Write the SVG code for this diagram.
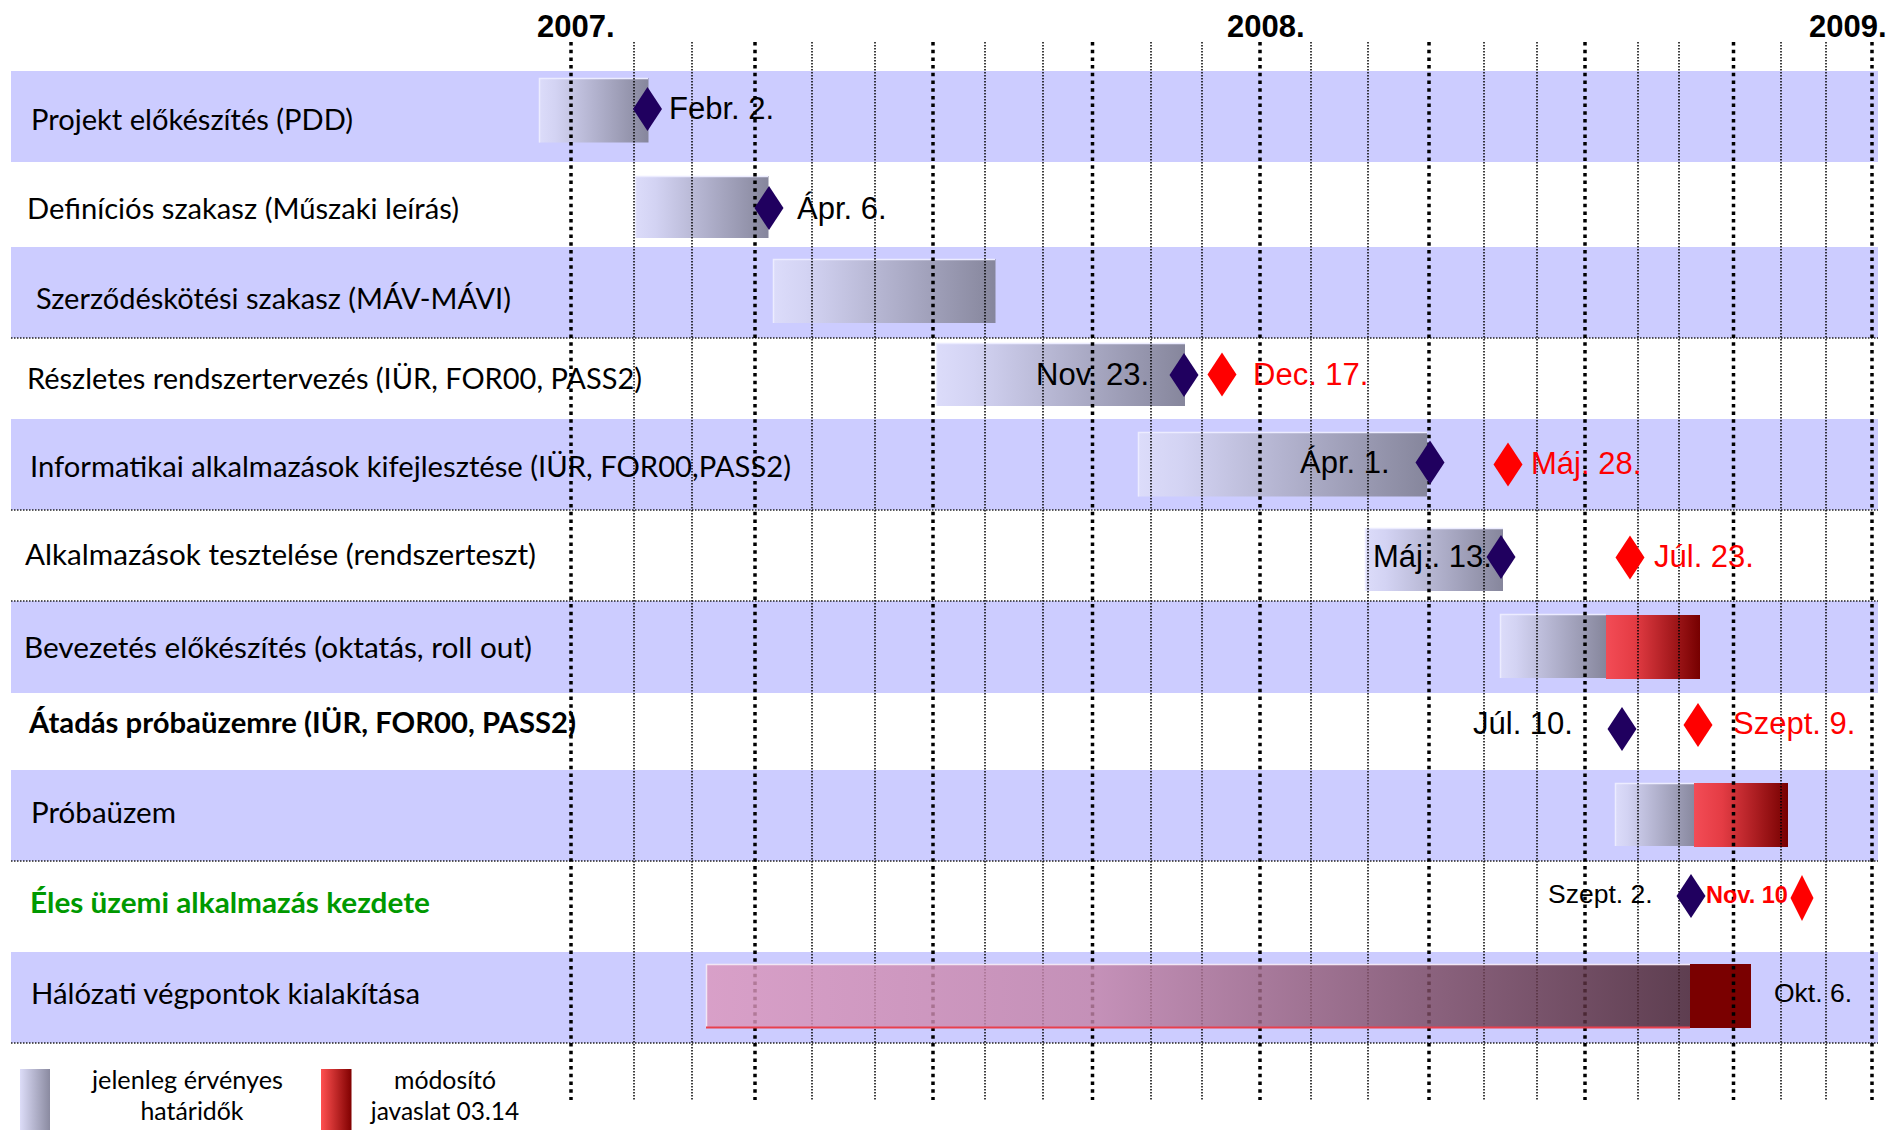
<svg xmlns="http://www.w3.org/2000/svg" xmlns:xlink="http://www.w3.org/1999/xlink" width="1901" height="1130" viewBox="0 0 1901 1130">
<style>
.band{fill:#CCCCFF}
.hl{stroke:#222;stroke-width:1.5;stroke-dasharray:1.5 1.5;fill:none}
.vthick{stroke:#000;stroke-width:3.5;stroke-dasharray:3.5 4.2;fill:none}
.vthin{stroke:#000;stroke-width:1.5;stroke-dasharray:1.5 1.5;fill:none}
.gbar{fill:url(#gGray)}
.rbar{fill:url(#gRed)}
.edge{stroke:#ECECFF;stroke-width:1.5;fill:none}
.lbl{font-family:Lato,"Liberation Sans",sans-serif;font-size:29px;fill:#000}
.lblb{font-family:Lato,"Liberation Sans",sans-serif;font-size:29px;font-weight:bold}
.year{font-family:"Liberation Sans",Arial,sans-serif;font-size:31px;font-weight:bold;fill:#000}
.date{font-family:"Liberation Sans",Arial,sans-serif;font-size:31px;fill:#000}
.dater{font-family:"Liberation Sans",Arial,sans-serif;font-size:31px;fill:#FF0000}
.leg{font-family:Lato,"Liberation Sans",sans-serif;font-size:25px;fill:#000}
.nav{fill:#20005F}
.red{fill:#FF0000}
</style>
<defs>
<linearGradient id="gGray" x1="0" y1="0" x2="1" y2="0">
<stop offset="0" stop-color="#DCDCFA"/>
<stop offset="0.15" stop-color="#D3D3F3"/>
<stop offset="1" stop-color="#86869C"/>
</linearGradient>
<linearGradient id="gRed" x1="0" y1="0" x2="1" y2="0">
<stop offset="0" stop-color="#F34C56"/>
<stop offset="0.3" stop-color="#E43C44"/>
<stop offset="1" stop-color="#760000"/>
</linearGradient>
<linearGradient id="gPink" x1="0" y1="0" x2="1" y2="0">
<stop offset="0" stop-color="#DB96BC"/>
<stop offset="0.4" stop-color="#C283A8"/>
<stop offset="1" stop-color="#461F2A"/>
</linearGradient>
<linearGradient id="gLegGray" x1="0" y1="0" x2="1" y2="0">
<stop offset="0" stop-color="#DCDCF8"/>
<stop offset="1" stop-color="#8A8AA0"/>
</linearGradient>
<linearGradient id="gLegRed" x1="0" y1="0" x2="1" y2="0">
<stop offset="0" stop-color="#FF5050"/>
<stop offset="1" stop-color="#800000"/>
</linearGradient>
<path id="dia" d="M0,-22 L14.5,0 L0,22 L-14.5,0 Z"/>
<path id="diaS" d="M0,-23 L11.5,0 L0,23 L-11.5,0 Z"/>
</defs>

<rect width="1901" height="1130" fill="#FFFFFF"/>

<!-- row bands -->
<g id="bands">
<rect class="band" x="11" y="71" width="1867" height="91"/>
<rect class="band" x="11" y="247" width="1867" height="91"/>
<rect class="band" x="11" y="419" width="1867" height="91"/>
<rect class="band" x="11" y="601" width="1867" height="92"/>
<rect class="band" x="11" y="770" width="1867" height="91"/>
<rect class="band" x="11" y="952" width="1867" height="91"/>
</g>

<!-- bars under grid -->
<g id="bars">
<rect class="gbar" x="539" y="78" width="109.5" height="64.5"/>
<path class="edge" d="M539.5,142.5 V78.5 H648"/>
<rect class="gbar" x="635" y="176" width="133.5" height="62"/>
<path class="edge" d="M635.5,238 V176.5 H768"/>
<rect class="gbar" x="773" y="259" width="222.5" height="64"/>
<path class="edge" d="M773.5,323 V259.5 H995"/>
<rect class="gbar" x="936" y="343" width="249" height="63"/>
<path class="edge" d="M936.5,406 V343.5 H1185"/>
<rect class="gbar" x="1138" y="432" width="289" height="64.5"/>
<path class="edge" d="M1138.5,496.5 V432.5 H1427"/>
<rect class="gbar" x="1365" y="528" width="138" height="63"/>
<path class="edge" d="M1365.5,591 V528.5 H1503"/>
<rect class="gbar" x="1500" y="614" width="106" height="64"/>
<path class="edge" d="M1500.5,678 V614.5 H1606"/>
<rect class="rbar" x="1606" y="615" width="94" height="64"/>
<rect class="gbar" x="1615" y="783" width="82" height="63"/>
<path class="edge" d="M1615.5,846 V783.5 H1697"/>
<rect class="rbar" x="1694" y="783" width="94" height="64"/>
<rect x="1690" y="964" width="61" height="64" fill="#7A0000"/>
</g>

<!-- grid lines -->
<g id="connectors">
<line class="hl" x1="11" y1="338" x2="1878" y2="338"/>
<line class="hl" x1="11" y1="510" x2="1878" y2="510"/>
<line class="hl" x1="11" y1="601" x2="1878" y2="601"/>
<line class="hl" x1="11" y1="861" x2="1878" y2="861"/>
<line class="hl" x1="11" y1="1043" x2="1878" y2="1043"/>
<line class="vthick" x1="571" y1="42" x2="571" y2="1100"/>
<line class="vthick" x1="755" y1="42" x2="755" y2="1100"/>
<line class="vthick" x1="933" y1="42" x2="933" y2="1100"/>
<line class="vthick" x1="1092.5" y1="42" x2="1092.5" y2="1100"/>
<line class="vthick" x1="1260" y1="42" x2="1260" y2="1100"/>
<line class="vthick" x1="1429" y1="42" x2="1429" y2="1100"/>
<line class="vthick" x1="1585" y1="42" x2="1585" y2="1100"/>
<line class="vthick" x1="1733.5" y1="42" x2="1733.5" y2="1100"/>
<line class="vthick" x1="1872" y1="42" x2="1872" y2="1100"/>
<line class="vthin" x1="634" y1="42" x2="634" y2="1100"/>
<line class="vthin" x1="692" y1="42" x2="692" y2="1100"/>
<line class="vthin" x1="812" y1="42" x2="812" y2="1100"/>
<line class="vthin" x1="875" y1="42" x2="875" y2="1100"/>
<line class="vthin" x1="985" y1="42" x2="985" y2="1100"/>
<line class="vthin" x1="1043" y1="42" x2="1043" y2="1100"/>
<line class="vthin" x1="1151" y1="42" x2="1151" y2="1100"/>
<line class="vthin" x1="1202" y1="42" x2="1202" y2="1100"/>
<line class="vthin" x1="1311" y1="42" x2="1311" y2="1100"/>
<line class="vthin" x1="1368" y1="42" x2="1368" y2="1100"/>
<line class="vthin" x1="1484" y1="42" x2="1484" y2="1100"/>
<line class="vthin" x1="1537" y1="42" x2="1537" y2="1100"/>
<line class="vthin" x1="1638" y1="42" x2="1638" y2="1100"/>
<line class="vthin" x1="1679" y1="42" x2="1679" y2="1100"/>
<line class="vthin" x1="1781" y1="42" x2="1781" y2="1100"/>
<line class="vthin" x1="1826" y1="42" x2="1826" y2="1100"/>
</g>

<!-- years -->
<g id="years">
<text class="year" x="537" y="37">2007.</text>
<text class="year" x="1227" y="37">2008.</text>
<text class="year" x="1809" y="37">2009.</text>
</g>

<g id="row1">
<text class="lbl" x="31" y="130" textLength="322" lengthAdjust="spacingAndGlyphs">Projekt előkészítés (PDD)</text>
<use xlink:href="#dia" class="nav" x="647.5" y="109"/>
<text class="date" x="669" y="119">Febr. 2.</text>
</g>

<g id="row2">
<text class="lbl" x="27" y="219" textLength="432" lengthAdjust="spacingAndGlyphs">Definíciós szakasz (Műszaki leírás)</text>
<use xlink:href="#dia" class="nav" x="769" y="208"/>
<text class="date" x="797" y="219">Ápr. 6.</text>
</g>

<g id="row3">
<text class="lbl" x="36" y="309" textLength="475" lengthAdjust="spacingAndGlyphs">Szerződéskötési szakasz (MÁV-MÁVI)</text>
</g>

<g id="row4">
<text class="lbl" x="27" y="389" textLength="615" lengthAdjust="spacingAndGlyphs">Részletes rendszertervezés (IÜR, FOR00, PASS2)</text>
<text class="date" x="1036" y="385">Nov. 23.</text>
<use xlink:href="#dia" class="nav" x="1184" y="375"/>
<use xlink:href="#dia" class="red" x="1222" y="374.5"/>
<text class="dater" x="1253" y="385">Dec. 17.</text>
</g>

<g id="row5">
<text class="lbl" x="30" y="477" textLength="761" lengthAdjust="spacingAndGlyphs">Informatikai alkalmazások kifejlesztése (IÜR, FOR00,PASS2)</text>
<text class="date" x="1300" y="473">Ápr. 1.</text>
<use xlink:href="#dia" class="nav" x="1430" y="462.5"/>
<use xlink:href="#dia" class="red" x="1508" y="464.5"/>
<text class="dater" x="1531" y="474">Máj. 28.</text>
</g>

<g id="row6">
<text class="lbl" x="25" y="565" textLength="511" lengthAdjust="spacingAndGlyphs">Alkalmazások tesztelése (rendszerteszt)</text>
<text class="date" x="1373" y="567">Máj.. 13.</text>
<use xlink:href="#dia" class="nav" x="1501" y="557"/>
<use xlink:href="#dia" class="red" x="1630" y="557.5"/>
<text class="dater" x="1654" y="567">Júl. 23.</text>
</g>

<g id="row7">
<text class="lbl" x="24" y="658" textLength="508" lengthAdjust="spacingAndGlyphs">Bevezetés előkészítés (oktatás, roll out)</text>
</g>

<g id="row8">
<text class="lblb" x="29" y="733" fill="#000" textLength="547" lengthAdjust="spacingAndGlyphs">Átadás próbaüzemre (IÜR, FOR00, PASS2)</text>
<text class="date" x="1473" y="734">Júl. 10.</text>
<use xlink:href="#dia" class="nav" x="1622" y="729"/>
<use xlink:href="#dia" class="red" x="1698" y="725"/>
<text class="dater" x="1733" y="734">Szept. 9.</text>
</g>

<g id="row9">
<text class="lbl" x="31" y="823" textLength="145" lengthAdjust="spacingAndGlyphs">Próbaüzem</text>
</g>

<g id="row10">
<text class="lblb" x="30" y="913" fill="#009900" textLength="400" lengthAdjust="spacingAndGlyphs">Éles üzemi alkalmazás kezdete</text>
<text x="1548" y="903" font-family="Liberation Sans, Arial, sans-serif" font-size="26.5" fill="#000">Szept. 2.</text>
<use xlink:href="#dia" class="nav" x="1691" y="896"/>
<text x="1706" y="903" font-family="Liberation Sans, Arial, sans-serif" font-size="23.5" font-weight="bold" fill="#FF0000">Nov. 10</text>
<use xlink:href="#diaS" class="red" x="1802" y="898"/>
</g>

<g id="row11">
<text class="lbl" x="31" y="1004" textLength="389" lengthAdjust="spacingAndGlyphs">Hálózati végpontok kialakítása</text>
<rect x="706" y="964" width="984" height="64" fill="url(#gPink)" opacity="0.82"/>
<line x1="706" y1="964.5" x2="1690" y2="964.5" stroke="#F2E6F4" stroke-width="1.5"/>
<line x1="706.5" y1="964" x2="706.5" y2="1028" stroke="#F2E6F4" stroke-width="1.5"/>
<line x1="706" y1="1027.5" x2="1690" y2="1027.5" stroke="#E8404E" stroke-width="2"/>
<text x="1774" y="1002" font-family="Liberation Sans, Arial, sans-serif" font-size="26.5" fill="#000">Okt. 6.</text>
</g>

<g id="legend">
<rect x="20" y="1069" width="30" height="61" fill="url(#gLegGray)"/>
<text class="leg" x="187.5" y="1089" text-anchor="middle" textLength="191" lengthAdjust="spacingAndGlyphs">jelenleg érvényes</text>
<text class="leg" x="192" y="1120" text-anchor="middle" textLength="103" lengthAdjust="spacingAndGlyphs">határidők</text>
<rect x="321" y="1069" width="30.5" height="61" fill="url(#gLegRed)"/>
<text class="leg" x="445" y="1089" text-anchor="middle" textLength="102" lengthAdjust="spacingAndGlyphs">módosító</text>
<text class="leg" x="445" y="1120" text-anchor="middle" textLength="148.5" lengthAdjust="spacingAndGlyphs">javaslat 03.14</text>
</g>
</svg>
